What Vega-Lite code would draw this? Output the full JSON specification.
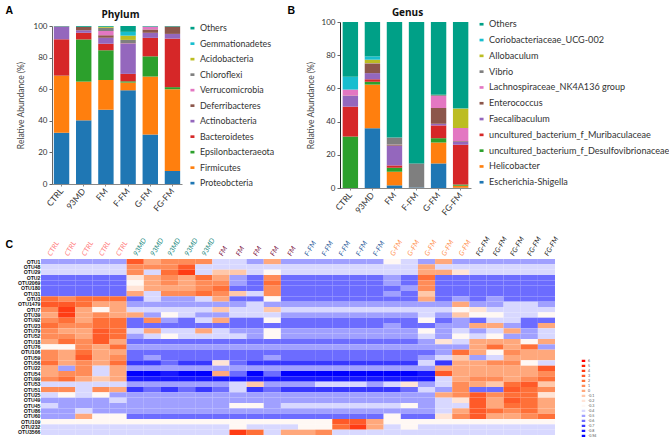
{"$schema":"https://vega.github.io/schema/vega-lite/v6.json","padding":{"left":5,"top":5,"right":0,"bottom":0},"background":"white","bounds":"flush","columns":2,"spacing":{"row":71,"column":158},"config":{"font":"Lato","view":{"stroke":null},"axis":{"labelFont":"Lato","titleFont":"Lato"},"legend":{"labelFont":"Lato"},"title":{"font":"Open Sans"}},
"datasets":{"phylum":[
{"g":"CTRL","t":"Proteobcteria","v":32.5,"r":1},{"g":"CTRL","t":"Firmicutes","v":36,"r":2},{"g":"CTRL","t":"Epsilonbacteraeota","v":0.1,"r":3},{"g":"CTRL","t":"Bacteroidetes","v":23,"r":4},{"g":"CTRL","t":"Actinobacteria","v":8,"r":5},{"g":"CTRL","t":"Deferribacteres","v":0.2,"r":6},{"g":"CTRL","t":"Others","v":0.2,"r":11},
{"g":"93MD","t":"Proteobcteria","v":40.3,"r":1},{"g":"93MD","t":"Firmicutes","v":24.5,"r":2},{"g":"93MD","t":"Epsilonbacteraeota","v":26.7,"r":3},{"g":"93MD","t":"Bacteroidetes","v":4.2,"r":4},{"g":"93MD","t":"Actinobacteria","v":1.6,"r":5},{"g":"93MD","t":"Deferribacteres","v":2.2,"r":6},{"g":"93MD","t":"Others","v":0.5,"r":11},
{"g":"FM","t":"Proteobcteria","v":47,"r":1},{"g":"FM","t":"Firmicutes","v":18.8,"r":2},{"g":"FM","t":"Epsilonbacteraeota","v":18.9,"r":3},{"g":"FM","t":"Bacteroidetes","v":4.1,"r":4},{"g":"FM","t":"Actinobacteria","v":3.8,"r":5},{"g":"FM","t":"Deferribacteres","v":1.6,"r":6},{"g":"FM","t":"Verrucomicrobia","v":2.6,"r":7},{"g":"FM","t":"Chloroflexi","v":2.1,"r":8},{"g":"FM","t":"Acidobacteria","v":0.6,"r":9},{"g":"FM","t":"Gemmationadetes","v":0.1,"r":10},{"g":"FM","t":"Others","v":0.4,"r":11},
{"g":"F-FM","t":"Proteobcteria","v":59.3,"r":1},{"g":"F-FM","t":"Firmicutes","v":4.9,"r":2},{"g":"F-FM","t":"Epsilonbacteraeota","v":0.8,"r":3},{"g":"F-FM","t":"Bacteroidetes","v":4.7,"r":4},{"g":"F-FM","t":"Actinobacteria","v":19.2,"r":5},{"g":"F-FM","t":"Deferribacteres","v":0.2,"r":6},{"g":"F-FM","t":"Verrucomicrobia","v":0.1,"r":7},{"g":"F-FM","t":"Chloroflexi","v":2,"r":8},{"g":"F-FM","t":"Acidobacteria","v":2.7,"r":9},{"g":"F-FM","t":"Gemmationadetes","v":2.4,"r":10},{"g":"F-FM","t":"Others","v":3.7,"r":11},
{"g":"G-FM","t":"Proteobcteria","v":31.3,"r":1},{"g":"G-FM","t":"Firmicutes","v":36.7,"r":2},{"g":"G-FM","t":"Epsilonbacteraeota","v":12.8,"r":3},{"g":"G-FM","t":"Bacteroidetes","v":11.7,"r":4},{"g":"G-FM","t":"Actinobacteria","v":3.2,"r":5},{"g":"G-FM","t":"Deferribacteres","v":2.1,"r":6},{"g":"G-FM","t":"Verrucomicrobia","v":1.7,"r":7},{"g":"G-FM","t":"Chloroflexi","v":0.2,"r":8},{"g":"G-FM","t":"Others","v":0.3,"r":11},
{"g":"FG-FM","t":"Proteobcteria","v":8.3,"r":1},{"g":"FG-FM","t":"Firmicutes","v":51.7,"r":2},{"g":"FG-FM","t":"Epsilonbacteraeota","v":1.3,"r":3},{"g":"FG-FM","t":"Bacteroidetes","v":30.7,"r":4},{"g":"FG-FM","t":"Actinobacteria","v":3,"r":5},{"g":"FG-FM","t":"Deferribacteres","v":4.7,"r":6},{"g":"FG-FM","t":"Others","v":0.3,"r":11}
],"genus":[
{"g":"CTRL","t":"uncultured_bacterium_f_Desulfovibrionaceae","v":31,"r":3},{"g":"CTRL","t":"uncultured_bacterium_f_Muribaculaceae","v":18,"r":4},{"g":"CTRL","t":"Faecalibaculum","v":6.5,"r":5},{"g":"CTRL","t":"Enterococcus","v":0.2,"r":6},{"g":"CTRL","t":"Lachnospiraceae_NK4A136 group","v":3.6,"r":7},{"g":"CTRL","t":"Coriobacteriaceae_UCG-002","v":7.7,"r":10},{"g":"CTRL","t":"Others","v":33,"r":11},
{"g":"93MD","t":"Escherichia-Shigella","v":36,"r":1},{"g":"93MD","t":"Helicobacter","v":26.3,"r":2},{"g":"93MD","t":"uncultured_bacterium_f_Desulfovibrionaceae","v":1.7,"r":3},{"g":"93MD","t":"uncultured_bacterium_f_Muribaculaceae","v":1.5,"r":4},{"g":"93MD","t":"Faecalibaculum","v":3.7,"r":5},{"g":"93MD","t":"Enterococcus","v":5.8,"r":6},{"g":"93MD","t":"Lachnospiraceae_NK4A136 group","v":0.1,"r":7},{"g":"93MD","t":"Vibrio","v":0.1,"r":8},{"g":"93MD","t":"Allobaculum","v":2.1,"r":9},{"g":"93MD","t":"Coriobacteriaceae_UCG-002","v":2,"r":10},{"g":"93MD","t":"Others","v":20.7,"r":11},
{"g":"FM","t":"Escherichia-Shigella","v":1.6,"r":1},{"g":"FM","t":"Helicobacter","v":8.2,"r":2},{"g":"FM","t":"uncultured_bacterium_f_Desulfovibrionaceae","v":2.4,"r":3},{"g":"FM","t":"uncultured_bacterium_f_Muribaculaceae","v":1.4,"r":4},{"g":"FM","t":"Faecalibaculum","v":11.9,"r":5},{"g":"FM","t":"Enterococcus","v":0.6,"r":6},{"g":"FM","t":"Lachnospiraceae_NK4A136 group","v":0.1,"r":7},{"g":"FM","t":"Vibrio","v":4.2,"r":8},{"g":"FM","t":"Others","v":69.6,"r":11},
{"g":"F-FM","t":"Escherichia-Shigella","v":0.3,"r":1},{"g":"F-FM","t":"Vibrio","v":14.5,"r":8},{"g":"F-FM","t":"Others","v":85.2,"r":11},
{"g":"G-FM","t":"Escherichia-Shigella","v":14.8,"r":1},{"g":"G-FM","t":"Helicobacter","v":12.6,"r":2},{"g":"G-FM","t":"uncultured_bacterium_f_Desulfovibrionaceae","v":2.6,"r":3},{"g":"G-FM","t":"uncultured_bacterium_f_Muribaculaceae","v":7.7,"r":4},{"g":"G-FM","t":"Faecalibaculum","v":1,"r":5},{"g":"G-FM","t":"Enterococcus","v":9.5,"r":6},{"g":"G-FM","t":"Lachnospiraceae_NK4A136 group","v":7.3,"r":7},{"g":"G-FM","t":"Vibrio","v":0.5,"r":8},{"g":"G-FM","t":"Allobaculum","v":0.1,"r":9},{"g":"G-FM","t":"Others","v":43.9,"r":11},
{"g":"FG-FM","t":"Escherichia-Shigella","v":0.2,"r":1},{"g":"FG-FM","t":"Helicobacter","v":1.2,"r":2},{"g":"FG-FM","t":"uncultured_bacterium_f_Desulfovibrionaceae","v":0.7,"r":3},{"g":"FG-FM","t":"uncultured_bacterium_f_Muribaculaceae","v":23.9,"r":4},{"g":"FG-FM","t":"Faecalibaculum","v":2,"r":5},{"g":"FG-FM","t":"Enterococcus","v":0.3,"r":6},{"g":"FG-FM","t":"Lachnospiraceae_NK4A136 group","v":7.9,"r":7},{"g":"FG-FM","t":"Allobaculum","v":11.7,"r":9},{"g":"FG-FM","t":"Coriobacteriaceae_UCG-002","v":0.1,"r":10},{"g":"FG-FM","t":"Others","v":52,"r":11}
],"heat":[
{"otu":"OTU1","s":"CTRL1","z":-0.5},{"otu":"OTU1","s":"CTRL2","z":-0.5},{"otu":"OTU1","s":"CTRL3","z":-0.5},{"otu":"OTU1","s":"CTRL4","z":-0.5},{"otu":"OTU1","s":"CTRL5","z":-0.5},{"otu":"OTU1","s":"93MD1","z":3},{"otu":"OTU1","s":"93MD2","z":0},{"otu":"OTU1","s":"93MD3","z":1},{"otu":"OTU1","s":"93MD4","z":1},{"otu":"OTU1","s":"93MD5","z":1},{"otu":"OTU1","s":"FM1","z":-0.4},{"otu":"OTU1","s":"FM2","z":-0.4},{"otu":"OTU1","s":"FM3","z":-0.5},{"otu":"OTU1","s":"FM4","z":0},{"otu":"OTU1","s":"FM5","z":-0.5},{"otu":"OTU1","s":"F-FM1","z":-0.5},{"otu":"OTU1","s":"F-FM2","z":-0.5},{"otu":"OTU1","s":"F-FM3","z":-0.5},{"otu":"OTU1","s":"F-FM4","z":-0.5},{"otu":"OTU1","s":"F-FM5","z":-0.5},{"otu":"OTU1","s":"G-FM1","z":-0.3},{"otu":"OTU1","s":"G-FM2","z":-0.4},{"otu":"OTU1","s":"G-FM3","z":-0.5},{"otu":"OTU1","s":"G-FM4","z":0},{"otu":"OTU1","s":"G-FM5","z":-0.5},{"otu":"OTU1","s":"FG-FM1","z":-0.5},{"otu":"OTU1","s":"FG-FM2","z":-0.5},{"otu":"OTU1","s":"FG-FM3","z":-0.5},{"otu":"OTU1","s":"FG-FM4","z":-0.5},{"otu":"OTU1","s":"FG-FM5","z":-0.5},
{"otu":"OTU48","s":"CTRL1","z":-0.4},{"otu":"OTU48","s":"CTRL2","z":-0.4},{"otu":"OTU48","s":"CTRL3","z":-0.4},{"otu":"OTU48","s":"CTRL4","z":-0.4},{"otu":"OTU48","s":"CTRL5","z":-0.4},{"otu":"OTU48","s":"93MD1","z":1},{"otu":"OTU48","s":"93MD2","z":1},{"otu":"OTU48","s":"93MD3","z":1},{"otu":"OTU48","s":"93MD4","z":3},{"otu":"OTU48","s":"93MD5","z":-0.4},{"otu":"OTU48","s":"FM1","z":-0.4},{"otu":"OTU48","s":"FM2","z":-0.4},{"otu":"OTU48","s":"FM3","z":-0.4},{"otu":"OTU48","s":"FM4","z":-0.4},{"otu":"OTU48","s":"FM5","z":-0.4},{"otu":"OTU48","s":"F-FM1","z":-0.4},{"otu":"OTU48","s":"F-FM2","z":-0.4},{"otu":"OTU48","s":"F-FM3","z":-0.4},{"otu":"OTU48","s":"F-FM4","z":-0.4},{"otu":"OTU48","s":"F-FM5","z":-0.4},{"otu":"OTU48","s":"G-FM1","z":-0.4},{"otu":"OTU48","s":"G-FM2","z":-0.4},{"otu":"OTU48","s":"G-FM3","z":0},{"otu":"OTU48","s":"G-FM4","z":-0.4},{"otu":"OTU48","s":"G-FM5","z":-0.4},{"otu":"OTU48","s":"FG-FM1","z":-0.4},{"otu":"OTU48","s":"FG-FM2","z":-0.4},{"otu":"OTU48","s":"FG-FM3","z":-0.4},{"otu":"OTU48","s":"FG-FM4","z":-0.4},{"otu":"OTU48","s":"FG-FM5","z":-0.4},
{"otu":"OTU29","s":"CTRL1","z":-0.4},{"otu":"OTU29","s":"CTRL2","z":-0.4},{"otu":"OTU29","s":"CTRL3","z":-0.4},{"otu":"OTU29","s":"CTRL4","z":-0.4},{"otu":"OTU29","s":"CTRL5","z":-0.4},{"otu":"OTU29","s":"93MD1","z":1},{"otu":"OTU29","s":"93MD2","z":-0.4},{"otu":"OTU29","s":"93MD3","z":2},{"otu":"OTU29","s":"93MD4","z":4},{"otu":"OTU29","s":"93MD5","z":-0.4},{"otu":"OTU29","s":"FM1","z":-0.1},{"otu":"OTU29","s":"FM2","z":-0.1},{"otu":"OTU29","s":"FM3","z":-0.4},{"otu":"OTU29","s":"FM4","z":-0.3},{"otu":"OTU29","s":"FM5","z":-0.4},{"otu":"OTU29","s":"F-FM1","z":-0.4},{"otu":"OTU29","s":"F-FM2","z":-0.4},{"otu":"OTU29","s":"F-FM3","z":-0.4},{"otu":"OTU29","s":"F-FM4","z":-0.4},{"otu":"OTU29","s":"F-FM5","z":-0.4},{"otu":"OTU29","s":"G-FM1","z":-0.4},{"otu":"OTU29","s":"G-FM2","z":-0.4},{"otu":"OTU29","s":"G-FM3","z":0},{"otu":"OTU29","s":"G-FM4","z":0},{"otu":"OTU29","s":"G-FM5","z":-0.2},{"otu":"OTU29","s":"FG-FM1","z":-0.4},{"otu":"OTU29","s":"FG-FM2","z":-0.4},{"otu":"OTU29","s":"FG-FM3","z":-0.4},{"otu":"OTU29","s":"FG-FM4","z":-0.4},{"otu":"OTU29","s":"FG-FM5","z":-0.4},
{"otu":"OTU2","s":"CTRL1","z":-0.6},{"otu":"OTU2","s":"CTRL2","z":-0.6},{"otu":"OTU2","s":"CTRL3","z":-0.6},{"otu":"OTU2","s":"CTRL4","z":-0.6},{"otu":"OTU2","s":"CTRL5","z":-0.6},{"otu":"OTU2","s":"93MD1","z":-0.2},{"otu":"OTU2","s":"93MD2","z":0},{"otu":"OTU2","s":"93MD3","z":1},{"otu":"OTU2","s":"93MD4","z":0},{"otu":"OTU2","s":"93MD5","z":2},{"otu":"OTU2","s":"FM1","z":0},{"otu":"OTU2","s":"FM2","z":-0.5},{"otu":"OTU2","s":"FM3","z":-0.6},{"otu":"OTU2","s":"FM4","z":1},{"otu":"OTU2","s":"FM5","z":-0.6},{"otu":"OTU2","s":"F-FM1","z":-0.6},{"otu":"OTU2","s":"F-FM2","z":-0.6},{"otu":"OTU2","s":"F-FM3","z":-0.6},{"otu":"OTU2","s":"F-FM4","z":-0.6},{"otu":"OTU2","s":"F-FM5","z":-0.6},{"otu":"OTU2","s":"G-FM1","z":-0.5},{"otu":"OTU2","s":"G-FM2","z":-0.6},{"otu":"OTU2","s":"G-FM3","z":2},{"otu":"OTU2","s":"G-FM4","z":-0.6},{"otu":"OTU2","s":"G-FM5","z":-0.6},{"otu":"OTU2","s":"FG-FM1","z":-0.6},{"otu":"OTU2","s":"FG-FM2","z":-0.6},{"otu":"OTU2","s":"FG-FM3","z":-0.6},{"otu":"OTU2","s":"FG-FM4","z":-0.6},{"otu":"OTU2","s":"FG-FM5","z":-0.6},
{"otu":"OTU2069","s":"CTRL1","z":-0.6},{"otu":"OTU2069","s":"CTRL2","z":-0.6},{"otu":"OTU2069","s":"CTRL3","z":-0.6},{"otu":"OTU2069","s":"CTRL4","z":-0.6},{"otu":"OTU2069","s":"CTRL5","z":-0.6},{"otu":"OTU2069","s":"93MD1","z":-0.3},{"otu":"OTU2069","s":"93MD2","z":0},{"otu":"OTU2069","s":"93MD3","z":1},{"otu":"OTU2069","s":"93MD4","z":0},{"otu":"OTU2069","s":"93MD5","z":1},{"otu":"OTU2069","s":"FM1","z":1},{"otu":"OTU2069","s":"FM2","z":-0.5},{"otu":"OTU2069","s":"FM3","z":-0.6},{"otu":"OTU2069","s":"FM4","z":2},{"otu":"OTU2069","s":"FM5","z":-0.6},{"otu":"OTU2069","s":"F-FM1","z":-0.6},{"otu":"OTU2069","s":"F-FM2","z":-0.6},{"otu":"OTU2069","s":"F-FM3","z":-0.6},{"otu":"OTU2069","s":"F-FM4","z":-0.6},{"otu":"OTU2069","s":"F-FM5","z":-0.6},{"otu":"OTU2069","s":"G-FM1","z":-0.5},{"otu":"OTU2069","s":"G-FM2","z":-0.6},{"otu":"OTU2069","s":"G-FM3","z":1},{"otu":"OTU2069","s":"G-FM4","z":-0.6},{"otu":"OTU2069","s":"G-FM5","z":-0.6},{"otu":"OTU2069","s":"FG-FM1","z":-0.6},{"otu":"OTU2069","s":"FG-FM2","z":-0.6},{"otu":"OTU2069","s":"FG-FM3","z":-0.6},{"otu":"OTU2069","s":"FG-FM4","z":-0.6},{"otu":"OTU2069","s":"FG-FM5","z":-0.6},
{"otu":"OTU180","s":"CTRL1","z":-0.6},{"otu":"OTU180","s":"CTRL2","z":-0.6},{"otu":"OTU180","s":"CTRL3","z":-0.6},{"otu":"OTU180","s":"CTRL4","z":-0.6},{"otu":"OTU180","s":"CTRL5","z":-0.6},{"otu":"OTU180","s":"93MD1","z":-0.2},{"otu":"OTU180","s":"93MD2","z":0},{"otu":"OTU180","s":"93MD3","z":0},{"otu":"OTU180","s":"93MD4","z":0},{"otu":"OTU180","s":"93MD5","z":1},{"otu":"OTU180","s":"FM1","z":2},{"otu":"OTU180","s":"FM2","z":-0.6},{"otu":"OTU180","s":"FM3","z":-0.6},{"otu":"OTU180","s":"FM4","z":1},{"otu":"OTU180","s":"FM5","z":-0.6},{"otu":"OTU180","s":"F-FM1","z":-0.6},{"otu":"OTU180","s":"F-FM2","z":-0.6},{"otu":"OTU180","s":"F-FM3","z":-0.6},{"otu":"OTU180","s":"F-FM4","z":-0.6},{"otu":"OTU180","s":"F-FM5","z":-0.6},{"otu":"OTU180","s":"G-FM1","z":-0.6},{"otu":"OTU180","s":"G-FM2","z":-0.5},{"otu":"OTU180","s":"G-FM3","z":1},{"otu":"OTU180","s":"G-FM4","z":-0.6},{"otu":"OTU180","s":"G-FM5","z":-0.6},{"otu":"OTU180","s":"FG-FM1","z":-0.6},{"otu":"OTU180","s":"FG-FM2","z":-0.6},{"otu":"OTU180","s":"FG-FM3","z":-0.6},{"otu":"OTU180","s":"FG-FM4","z":-0.6},{"otu":"OTU180","s":"FG-FM5","z":-0.6},
{"otu":"OTU31","s":"CTRL1","z":-0.6},{"otu":"OTU31","s":"CTRL2","z":-0.6},{"otu":"OTU31","s":"CTRL3","z":-0.6},{"otu":"OTU31","s":"CTRL4","z":-0.6},{"otu":"OTU31","s":"CTRL5","z":-0.6},{"otu":"OTU31","s":"93MD1","z":0},{"otu":"OTU31","s":"93MD2","z":-0.4},{"otu":"OTU31","s":"93MD3","z":1},{"otu":"OTU31","s":"93MD4","z":1},{"otu":"OTU31","s":"93MD5","z":2},{"otu":"OTU31","s":"FM1","z":1},{"otu":"OTU31","s":"FM2","z":-0.1},{"otu":"OTU31","s":"FM3","z":-0.4},{"otu":"OTU31","s":"FM4","z":1},{"otu":"OTU31","s":"FM5","z":-0.6},{"otu":"OTU31","s":"F-FM1","z":-0.6},{"otu":"OTU31","s":"F-FM2","z":-0.6},{"otu":"OTU31","s":"F-FM3","z":-0.6},{"otu":"OTU31","s":"F-FM4","z":-0.6},{"otu":"OTU31","s":"F-FM5","z":-0.6},{"otu":"OTU31","s":"G-FM1","z":-0.5},{"otu":"OTU31","s":"G-FM2","z":-0.6},{"otu":"OTU31","s":"G-FM3","z":-0.1},{"otu":"OTU31","s":"G-FM4","z":-0.6},{"otu":"OTU31","s":"G-FM5","z":-0.6},{"otu":"OTU31","s":"FG-FM1","z":-0.6},{"otu":"OTU31","s":"FG-FM2","z":-0.6},{"otu":"OTU31","s":"FG-FM3","z":-0.6},{"otu":"OTU31","s":"FG-FM4","z":-0.6},{"otu":"OTU31","s":"FG-FM5","z":-0.6},
{"otu":"OTU3","s":"CTRL1","z":2},{"otu":"OTU3","s":"CTRL2","z":1},{"otu":"OTU3","s":"CTRL3","z":2},{"otu":"OTU3","s":"CTRL4","z":2},{"otu":"OTU3","s":"CTRL5","z":2},{"otu":"OTU3","s":"93MD1","z":-0.6},{"otu":"OTU3","s":"93MD2","z":-0.4},{"otu":"OTU3","s":"93MD3","z":-0.5},{"otu":"OTU3","s":"93MD4","z":-0.5},{"otu":"OTU3","s":"93MD5","z":-0.4},{"otu":"OTU3","s":"FM1","z":0},{"otu":"OTU3","s":"FM2","z":-0.6},{"otu":"OTU3","s":"FM3","z":-0.6},{"otu":"OTU3","s":"FM4","z":-0.3},{"otu":"OTU3","s":"FM5","z":-0.6},{"otu":"OTU3","s":"F-FM1","z":-0.6},{"otu":"OTU3","s":"F-FM2","z":-0.6},{"otu":"OTU3","s":"F-FM3","z":-0.6},{"otu":"OTU3","s":"F-FM4","z":-0.6},{"otu":"OTU3","s":"F-FM5","z":-0.6},{"otu":"OTU3","s":"G-FM1","z":-0.6},{"otu":"OTU3","s":"G-FM2","z":-0.6},{"otu":"OTU3","s":"G-FM3","z":0},{"otu":"OTU3","s":"G-FM4","z":-0.6},{"otu":"OTU3","s":"G-FM5","z":-0.5},{"otu":"OTU3","s":"FG-FM1","z":-0.6},{"otu":"OTU3","s":"FG-FM2","z":-0.5},{"otu":"OTU3","s":"FG-FM3","z":-0.6},{"otu":"OTU3","s":"FG-FM4","z":-0.6},{"otu":"OTU3","s":"FG-FM5","z":-0.6},
{"otu":"OTU1479","s":"CTRL1","z":3},{"otu":"OTU1479","s":"CTRL2","z":3},{"otu":"OTU1479","s":"CTRL3","z":2},{"otu":"OTU1479","s":"CTRL4","z":0},{"otu":"OTU1479","s":"CTRL5","z":0},{"otu":"OTU1479","s":"93MD1","z":-0.5},{"otu":"OTU1479","s":"93MD2","z":-0.5},{"otu":"OTU1479","s":"93MD3","z":-0.5},{"otu":"OTU1479","s":"93MD4","z":-0.5},{"otu":"OTU1479","s":"93MD5","z":-0.5},{"otu":"OTU1479","s":"FM1","z":-0.5},{"otu":"OTU1479","s":"FM2","z":-0.5},{"otu":"OTU1479","s":"FM3","z":-0.4},{"otu":"OTU1479","s":"FM4","z":-0.5},{"otu":"OTU1479","s":"FM5","z":-0.5},{"otu":"OTU1479","s":"F-FM1","z":-0.5},{"otu":"OTU1479","s":"F-FM2","z":-0.5},{"otu":"OTU1479","s":"F-FM3","z":-0.5},{"otu":"OTU1479","s":"F-FM4","z":-0.5},{"otu":"OTU1479","s":"F-FM5","z":-0.5},{"otu":"OTU1479","s":"G-FM1","z":-0.5},{"otu":"OTU1479","s":"G-FM2","z":-0.5},{"otu":"OTU1479","s":"G-FM3","z":-0.5},{"otu":"OTU1479","s":"G-FM4","z":-0.5},{"otu":"OTU1479","s":"G-FM5","z":0},{"otu":"OTU1479","s":"FG-FM1","z":-0.5},{"otu":"OTU1479","s":"FG-FM2","z":-0.5},{"otu":"OTU1479","s":"FG-FM3","z":-0.4},{"otu":"OTU1479","s":"FG-FM4","z":-0.4},{"otu":"OTU1479","s":"FG-FM5","z":-0.5},
{"otu":"OTU7","s":"CTRL1","z":1},{"otu":"OTU7","s":"CTRL2","z":4},{"otu":"OTU7","s":"CTRL3","z":0},{"otu":"OTU7","s":"CTRL4","z":-0.3},{"otu":"OTU7","s":"CTRL5","z":0},{"otu":"OTU7","s":"93MD1","z":-0.4},{"otu":"OTU7","s":"93MD2","z":-0.4},{"otu":"OTU7","s":"93MD3","z":-0.4},{"otu":"OTU7","s":"93MD4","z":-0.4},{"otu":"OTU7","s":"93MD5","z":-0.4},{"otu":"OTU7","s":"FM1","z":-0.1},{"otu":"OTU7","s":"FM2","z":-0.4},{"otu":"OTU7","s":"FM3","z":-0.4},{"otu":"OTU7","s":"FM4","z":-0.1},{"otu":"OTU7","s":"FM5","z":-0.4},{"otu":"OTU7","s":"F-FM1","z":-0.4},{"otu":"OTU7","s":"F-FM2","z":-0.4},{"otu":"OTU7","s":"F-FM3","z":-0.4},{"otu":"OTU7","s":"F-FM4","z":-0.4},{"otu":"OTU7","s":"F-FM5","z":-0.4},{"otu":"OTU7","s":"G-FM1","z":-0.4},{"otu":"OTU7","s":"G-FM2","z":-0.4},{"otu":"OTU7","s":"G-FM3","z":-0.4},{"otu":"OTU7","s":"G-FM4","z":-0.4},{"otu":"OTU7","s":"G-FM5","z":-0.3},{"otu":"OTU7","s":"FG-FM1","z":-0.2},{"otu":"OTU7","s":"FG-FM2","z":-0.4},{"otu":"OTU7","s":"FG-FM3","z":-0.4},{"otu":"OTU7","s":"FG-FM4","z":-0.4},{"otu":"OTU7","s":"FG-FM5","z":-0.4},
{"otu":"OTU39","s":"CTRL1","z":0},{"otu":"OTU39","s":"CTRL2","z":4},{"otu":"OTU39","s":"CTRL3","z":0},{"otu":"OTU39","s":"CTRL4","z":1},{"otu":"OTU39","s":"CTRL5","z":0},{"otu":"OTU39","s":"93MD1","z":0},{"otu":"OTU39","s":"93MD2","z":-0.5},{"otu":"OTU39","s":"93MD3","z":-0.3},{"otu":"OTU39","s":"93MD4","z":-0.4},{"otu":"OTU39","s":"93MD5","z":-0.5},{"otu":"OTU39","s":"FM1","z":-0.5},{"otu":"OTU39","s":"FM2","z":-0.4},{"otu":"OTU39","s":"FM3","z":-0.4},{"otu":"OTU39","s":"FM4","z":-0.4},{"otu":"OTU39","s":"FM5","z":-0.5},{"otu":"OTU39","s":"F-FM1","z":-0.5},{"otu":"OTU39","s":"F-FM2","z":-0.5},{"otu":"OTU39","s":"F-FM3","z":-0.5},{"otu":"OTU39","s":"F-FM4","z":-0.5},{"otu":"OTU39","s":"F-FM5","z":-0.5},{"otu":"OTU39","s":"G-FM1","z":-0.5},{"otu":"OTU39","s":"G-FM2","z":-0.5},{"otu":"OTU39","s":"G-FM3","z":-0.4},{"otu":"OTU39","s":"G-FM4","z":-0.5},{"otu":"OTU39","s":"G-FM5","z":-0.1},{"otu":"OTU39","s":"FG-FM1","z":-0.3},{"otu":"OTU39","s":"FG-FM2","z":-0.3},{"otu":"OTU39","s":"FG-FM3","z":-0.4},{"otu":"OTU39","s":"FG-FM4","z":-0.4},{"otu":"OTU39","s":"FG-FM5","z":-0.3},
{"otu":"OTU92","s":"CTRL1","z":1},{"otu":"OTU92","s":"CTRL2","z":2},{"otu":"OTU92","s":"CTRL3","z":0},{"otu":"OTU92","s":"CTRL4","z":2},{"otu":"OTU92","s":"CTRL5","z":2},{"otu":"OTU92","s":"93MD1","z":-0.6},{"otu":"OTU92","s":"93MD2","z":1},{"otu":"OTU92","s":"93MD3","z":-0.5},{"otu":"OTU92","s":"93MD4","z":-0.6},{"otu":"OTU92","s":"93MD5","z":-0.4},{"otu":"OTU92","s":"FM1","z":0},{"otu":"OTU92","s":"FM2","z":-0.6},{"otu":"OTU92","s":"FM3","z":-0.6},{"otu":"OTU92","s":"FM4","z":-0.3},{"otu":"OTU92","s":"FM5","z":-0.6},{"otu":"OTU92","s":"F-FM1","z":-0.6},{"otu":"OTU92","s":"F-FM2","z":-0.6},{"otu":"OTU92","s":"F-FM3","z":-0.6},{"otu":"OTU92","s":"F-FM4","z":-0.6},{"otu":"OTU92","s":"F-FM5","z":-0.6},{"otu":"OTU92","s":"G-FM1","z":-0.6},{"otu":"OTU92","s":"G-FM2","z":-0.6},{"otu":"OTU92","s":"G-FM3","z":-0.3},{"otu":"OTU92","s":"G-FM4","z":-0.6},{"otu":"OTU92","s":"G-FM5","z":-0.5},{"otu":"OTU92","s":"FG-FM1","z":-0.6},{"otu":"OTU92","s":"FG-FM2","z":-0.4},{"otu":"OTU92","s":"FG-FM3","z":-0.4},{"otu":"OTU92","s":"FG-FM4","z":-0.6},{"otu":"OTU92","s":"FG-FM5","z":-0.6},
{"otu":"OTU23","s":"CTRL1","z":2},{"otu":"OTU23","s":"CTRL2","z":1},{"otu":"OTU23","s":"CTRL3","z":1},{"otu":"OTU23","s":"CTRL4","z":2},{"otu":"OTU23","s":"CTRL5","z":2},{"otu":"OTU23","s":"93MD1","z":-0.6},{"otu":"OTU23","s":"93MD2","z":-0.6},{"otu":"OTU23","s":"93MD3","z":-0.6},{"otu":"OTU23","s":"93MD4","z":-0.6},{"otu":"OTU23","s":"93MD5","z":-0.6},{"otu":"OTU23","s":"FM1","z":-0.6},{"otu":"OTU23","s":"FM2","z":-0.6},{"otu":"OTU23","s":"FM3","z":-0.6},{"otu":"OTU23","s":"FM4","z":-0.6},{"otu":"OTU23","s":"FM5","z":-0.6},{"otu":"OTU23","s":"F-FM1","z":-0.6},{"otu":"OTU23","s":"F-FM2","z":-0.6},{"otu":"OTU23","s":"F-FM3","z":-0.6},{"otu":"OTU23","s":"F-FM4","z":-0.6},{"otu":"OTU23","s":"F-FM5","z":-0.6},{"otu":"OTU23","s":"G-FM1","z":-0.5},{"otu":"OTU23","s":"G-FM2","z":-0.6},{"otu":"OTU23","s":"G-FM3","z":-0.6},{"otu":"OTU23","s":"G-FM4","z":-0.5},{"otu":"OTU23","s":"G-FM5","z":-0.5},{"otu":"OTU23","s":"FG-FM1","z":0},{"otu":"OTU23","s":"FG-FM2","z":0},{"otu":"OTU23","s":"FG-FM3","z":-0.5},{"otu":"OTU23","s":"FG-FM4","z":-0.6},{"otu":"OTU23","s":"FG-FM5","z":0},
{"otu":"OTU79","s":"CTRL1","z":1},{"otu":"OTU79","s":"CTRL2","z":0},{"otu":"OTU79","s":"CTRL3","z":0},{"otu":"OTU79","s":"CTRL4","z":3},{"otu":"OTU79","s":"CTRL5","z":2},{"otu":"OTU79","s":"93MD1","z":-0.4},{"otu":"OTU79","s":"93MD2","z":0},{"otu":"OTU79","s":"93MD3","z":-0.4},{"otu":"OTU79","s":"93MD4","z":-0.4},{"otu":"OTU79","s":"93MD5","z":0},{"otu":"OTU79","s":"FM1","z":-0.4},{"otu":"OTU79","s":"FM2","z":-0.5},{"otu":"OTU79","s":"FM3","z":-0.5},{"otu":"OTU79","s":"FM4","z":-0.3},{"otu":"OTU79","s":"FM5","z":-0.5},{"otu":"OTU79","s":"F-FM1","z":-0.5},{"otu":"OTU79","s":"F-FM2","z":-0.5},{"otu":"OTU79","s":"F-FM3","z":-0.5},{"otu":"OTU79","s":"F-FM4","z":-0.5},{"otu":"OTU79","s":"F-FM5","z":-0.5},{"otu":"OTU79","s":"G-FM1","z":-0.5},{"otu":"OTU79","s":"G-FM2","z":-0.5},{"otu":"OTU79","s":"G-FM3","z":-0.3},{"otu":"OTU79","s":"G-FM4","z":-0.5},{"otu":"OTU79","s":"G-FM5","z":-0.4},{"otu":"OTU79","s":"FG-FM1","z":-0.5},{"otu":"OTU79","s":"FG-FM2","z":-0.4},{"otu":"OTU79","s":"FG-FM3","z":0},{"otu":"OTU79","s":"FG-FM4","z":-0.5},{"otu":"OTU79","s":"FG-FM5","z":-0.4},
{"otu":"OTU52","s":"CTRL1","z":1},{"otu":"OTU52","s":"CTRL2","z":1},{"otu":"OTU52","s":"CTRL3","z":0},{"otu":"OTU52","s":"CTRL4","z":3},{"otu":"OTU52","s":"CTRL5","z":2},{"otu":"OTU52","s":"93MD1","z":-0.5},{"otu":"OTU52","s":"93MD2","z":-0.4},{"otu":"OTU52","s":"93MD3","z":-0.3},{"otu":"OTU52","s":"93MD4","z":-0.4},{"otu":"OTU52","s":"93MD5","z":-0.4},{"otu":"OTU52","s":"FM1","z":-0.4},{"otu":"OTU52","s":"FM2","z":-0.4},{"otu":"OTU52","s":"FM3","z":-0.5},{"otu":"OTU52","s":"FM4","z":-0.3},{"otu":"OTU52","s":"FM5","z":-0.5},{"otu":"OTU52","s":"F-FM1","z":-0.5},{"otu":"OTU52","s":"F-FM2","z":-0.5},{"otu":"OTU52","s":"F-FM3","z":-0.5},{"otu":"OTU52","s":"F-FM4","z":-0.5},{"otu":"OTU52","s":"F-FM5","z":-0.5},{"otu":"OTU52","s":"G-FM1","z":-0.5},{"otu":"OTU52","s":"G-FM2","z":-0.5},{"otu":"OTU52","s":"G-FM3","z":-0.4},{"otu":"OTU52","s":"G-FM4","z":-0.5},{"otu":"OTU52","s":"G-FM5","z":-0.3},{"otu":"OTU52","s":"FG-FM1","z":-0.4},{"otu":"OTU52","s":"FG-FM2","z":-0.3},{"otu":"OTU52","s":"FG-FM3","z":-0.5},{"otu":"OTU52","s":"FG-FM4","z":-0.5},{"otu":"OTU52","s":"FG-FM5","z":-0.4},
{"otu":"OTU18","s":"CTRL1","z":0},{"otu":"OTU18","s":"CTRL2","z":2},{"otu":"OTU18","s":"CTRL3","z":1},{"otu":"OTU18","s":"CTRL4","z":3},{"otu":"OTU18","s":"CTRL5","z":0},{"otu":"OTU18","s":"93MD1","z":-0.6},{"otu":"OTU18","s":"93MD2","z":-0.6},{"otu":"OTU18","s":"93MD3","z":-0.6},{"otu":"OTU18","s":"93MD4","z":-0.6},{"otu":"OTU18","s":"93MD5","z":-0.6},{"otu":"OTU18","s":"FM1","z":-0.6},{"otu":"OTU18","s":"FM2","z":-0.6},{"otu":"OTU18","s":"FM3","z":-0.6},{"otu":"OTU18","s":"FM4","z":-0.6},{"otu":"OTU18","s":"FM5","z":-0.6},{"otu":"OTU18","s":"F-FM1","z":-0.6},{"otu":"OTU18","s":"F-FM2","z":-0.6},{"otu":"OTU18","s":"F-FM3","z":-0.6},{"otu":"OTU18","s":"F-FM4","z":-0.6},{"otu":"OTU18","s":"F-FM5","z":-0.6},{"otu":"OTU18","s":"G-FM1","z":-0.6},{"otu":"OTU18","s":"G-FM2","z":-0.6},{"otu":"OTU18","s":"G-FM3","z":-0.5},{"otu":"OTU18","s":"G-FM4","z":-0.2},{"otu":"OTU18","s":"G-FM5","z":-0.4},{"otu":"OTU18","s":"FG-FM1","z":0},{"otu":"OTU18","s":"FG-FM2","z":0},{"otu":"OTU18","s":"FG-FM3","z":0},{"otu":"OTU18","s":"FG-FM4","z":-0.3},{"otu":"OTU18","s":"FG-FM5","z":0},
{"otu":"OTU76","s":"CTRL1","z":-0.3},{"otu":"OTU76","s":"CTRL2","z":-0.3},{"otu":"OTU76","s":"CTRL3","z":1},{"otu":"OTU76","s":"CTRL4","z":0},{"otu":"OTU76","s":"CTRL5","z":2},{"otu":"OTU76","s":"93MD1","z":-0.5},{"otu":"OTU76","s":"93MD2","z":-0.5},{"otu":"OTU76","s":"93MD3","z":-0.5},{"otu":"OTU76","s":"93MD4","z":-0.5},{"otu":"OTU76","s":"93MD5","z":-0.5},{"otu":"OTU76","s":"FM1","z":-0.5},{"otu":"OTU76","s":"FM2","z":-0.5},{"otu":"OTU76","s":"FM3","z":-0.5},{"otu":"OTU76","s":"FM4","z":-0.5},{"otu":"OTU76","s":"FM5","z":-0.5},{"otu":"OTU76","s":"F-FM1","z":-0.5},{"otu":"OTU76","s":"F-FM2","z":-0.5},{"otu":"OTU76","s":"F-FM3","z":-0.5},{"otu":"OTU76","s":"F-FM4","z":-0.5},{"otu":"OTU76","s":"F-FM5","z":-0.5},{"otu":"OTU76","s":"G-FM1","z":-0.5},{"otu":"OTU76","s":"G-FM2","z":-0.5},{"otu":"OTU76","s":"G-FM3","z":-0.5},{"otu":"OTU76","s":"G-FM4","z":-0.5},{"otu":"OTU76","s":"G-FM5","z":-0.5},{"otu":"OTU76","s":"FG-FM1","z":0},{"otu":"OTU76","s":"FG-FM2","z":2},{"otu":"OTU76","s":"FG-FM3","z":0},{"otu":"OTU76","s":"FG-FM4","z":2},{"otu":"OTU76","s":"FG-FM5","z":-0.5},
{"otu":"OTU106","s":"CTRL1","z":1},{"otu":"OTU106","s":"CTRL2","z":0},{"otu":"OTU106","s":"CTRL3","z":2},{"otu":"OTU106","s":"CTRL4","z":0},{"otu":"OTU106","s":"CTRL5","z":0},{"otu":"OTU106","s":"93MD1","z":-0.6},{"otu":"OTU106","s":"93MD2","z":-0.6},{"otu":"OTU106","s":"93MD3","z":-0.6},{"otu":"OTU106","s":"93MD4","z":-0.6},{"otu":"OTU106","s":"93MD5","z":-0.6},{"otu":"OTU106","s":"FM1","z":-0.6},{"otu":"OTU106","s":"FM2","z":-0.6},{"otu":"OTU106","s":"FM3","z":-0.6},{"otu":"OTU106","s":"FM4","z":-0.6},{"otu":"OTU106","s":"FM5","z":-0.6},{"otu":"OTU106","s":"F-FM1","z":-0.6},{"otu":"OTU106","s":"F-FM2","z":-0.6},{"otu":"OTU106","s":"F-FM3","z":-0.6},{"otu":"OTU106","s":"F-FM4","z":-0.6},{"otu":"OTU106","s":"F-FM5","z":-0.6},{"otu":"OTU106","s":"G-FM1","z":-0.6},{"otu":"OTU106","s":"G-FM2","z":-0.6},{"otu":"OTU106","s":"G-FM3","z":-0.6},{"otu":"OTU106","s":"G-FM4","z":-0.5},{"otu":"OTU106","s":"G-FM5","z":2},{"otu":"OTU106","s":"FG-FM1","z":0},{"otu":"OTU106","s":"FG-FM2","z":-0.3},{"otu":"OTU106","s":"FG-FM3","z":1},{"otu":"OTU106","s":"FG-FM4","z":0},{"otu":"OTU106","s":"FG-FM5","z":0},
{"otu":"OTU59","s":"CTRL1","z":1},{"otu":"OTU59","s":"CTRL2","z":0},{"otu":"OTU59","s":"CTRL3","z":3},{"otu":"OTU59","s":"CTRL4","z":0},{"otu":"OTU59","s":"CTRL5","z":1},{"otu":"OTU59","s":"93MD1","z":-0.6},{"otu":"OTU59","s":"93MD2","z":-0.5},{"otu":"OTU59","s":"93MD3","z":-0.6},{"otu":"OTU59","s":"93MD4","z":-0.6},{"otu":"OTU59","s":"93MD5","z":-0.6},{"otu":"OTU59","s":"FM1","z":-0.6},{"otu":"OTU59","s":"FM2","z":-0.6},{"otu":"OTU59","s":"FM3","z":-0.6},{"otu":"OTU59","s":"FM4","z":-0.5},{"otu":"OTU59","s":"FM5","z":-0.6},{"otu":"OTU59","s":"F-FM1","z":-0.6},{"otu":"OTU59","s":"F-FM2","z":-0.6},{"otu":"OTU59","s":"F-FM3","z":-0.6},{"otu":"OTU59","s":"F-FM4","z":-0.6},{"otu":"OTU59","s":"F-FM5","z":-0.6},{"otu":"OTU59","s":"G-FM1","z":-0.6},{"otu":"OTU59","s":"G-FM2","z":-0.6},{"otu":"OTU59","s":"G-FM3","z":-0.5},{"otu":"OTU59","s":"G-FM4","z":-0.4},{"otu":"OTU59","s":"G-FM5","z":-0.1},{"otu":"OTU59","s":"FG-FM1","z":-0.5},{"otu":"OTU59","s":"FG-FM2","z":-0.4},{"otu":"OTU59","s":"FG-FM3","z":0},{"otu":"OTU59","s":"FG-FM4","z":0},{"otu":"OTU59","s":"FG-FM5","z":0},
{"otu":"OTU56","s":"CTRL1","z":2},{"otu":"OTU56","s":"CTRL2","z":0},{"otu":"OTU56","s":"CTRL3","z":1},{"otu":"OTU56","s":"CTRL4","z":0},{"otu":"OTU56","s":"CTRL5","z":2},{"otu":"OTU56","s":"93MD1","z":-0.7},{"otu":"OTU56","s":"93MD2","z":-0.7},{"otu":"OTU56","s":"93MD3","z":-0.6},{"otu":"OTU56","s":"93MD4","z":-0.7},{"otu":"OTU56","s":"93MD5","z":-0.7},{"otu":"OTU56","s":"FM1","z":-0.2},{"otu":"OTU56","s":"FM2","z":-0.6},{"otu":"OTU56","s":"FM3","z":-0.7},{"otu":"OTU56","s":"FM4","z":-0.7},{"otu":"OTU56","s":"FM5","z":-0.7},{"otu":"OTU56","s":"F-FM1","z":-0.7},{"otu":"OTU56","s":"F-FM2","z":-0.7},{"otu":"OTU56","s":"F-FM3","z":-0.7},{"otu":"OTU56","s":"F-FM4","z":-0.7},{"otu":"OTU56","s":"F-FM5","z":-0.7},{"otu":"OTU56","s":"G-FM1","z":-0.7},{"otu":"OTU56","s":"G-FM2","z":-0.7},{"otu":"OTU56","s":"G-FM3","z":-0.4},{"otu":"OTU56","s":"G-FM4","z":-0.7},{"otu":"OTU56","s":"G-FM5","z":0},{"otu":"OTU56","s":"FG-FM1","z":0},{"otu":"OTU56","s":"FG-FM2","z":1},{"otu":"OTU56","s":"FG-FM3","z":1},{"otu":"OTU56","s":"FG-FM4","z":-0.3},{"otu":"OTU56","s":"FG-FM5","z":-0.4},
{"otu":"OTU22","s":"CTRL1","z":0},{"otu":"OTU22","s":"CTRL2","z":-0.5},{"otu":"OTU22","s":"CTRL3","z":1},{"otu":"OTU22","s":"CTRL4","z":-0.4},{"otu":"OTU22","s":"CTRL5","z":0},{"otu":"OTU22","s":"93MD1","z":-0.5},{"otu":"OTU22","s":"93MD2","z":-0.5},{"otu":"OTU22","s":"93MD3","z":-0.5},{"otu":"OTU22","s":"93MD4","z":-0.5},{"otu":"OTU22","s":"93MD5","z":-0.5},{"otu":"OTU22","s":"FM1","z":-0.5},{"otu":"OTU22","s":"FM2","z":-0.5},{"otu":"OTU22","s":"FM3","z":-0.5},{"otu":"OTU22","s":"FM4","z":-0.5},{"otu":"OTU22","s":"FM5","z":-0.5},{"otu":"OTU22","s":"F-FM1","z":-0.5},{"otu":"OTU22","s":"F-FM2","z":-0.5},{"otu":"OTU22","s":"F-FM3","z":-0.5},{"otu":"OTU22","s":"F-FM4","z":-0.5},{"otu":"OTU22","s":"F-FM5","z":-0.5},{"otu":"OTU22","s":"G-FM1","z":-0.5},{"otu":"OTU22","s":"G-FM2","z":-0.5},{"otu":"OTU22","s":"G-FM3","z":-0.5},{"otu":"OTU22","s":"G-FM4","z":0},{"otu":"OTU22","s":"G-FM5","z":0},{"otu":"OTU22","s":"FG-FM1","z":0},{"otu":"OTU22","s":"FG-FM2","z":0},{"otu":"OTU22","s":"FG-FM3","z":0},{"otu":"OTU22","s":"FG-FM4","z":0},{"otu":"OTU22","s":"FG-FM5","z":3},
{"otu":"OTU54","s":"CTRL1","z":0},{"otu":"OTU54","s":"CTRL2","z":1},{"otu":"OTU54","s":"CTRL3","z":1},{"otu":"OTU54","s":"CTRL4","z":-0.4},{"otu":"OTU54","s":"CTRL5","z":0},{"otu":"OTU54","s":"93MD1","z":-0.94},{"otu":"OTU54","s":"93MD2","z":-0.94},{"otu":"OTU54","s":"93MD3","z":-0.8},{"otu":"OTU54","s":"93MD4","z":-0.94},{"otu":"OTU54","s":"93MD5","z":-0.94},{"otu":"OTU54","s":"FM1","z":0},{"otu":"OTU54","s":"FM2","z":-0.6},{"otu":"OTU54","s":"FM3","z":-0.94},{"otu":"OTU54","s":"FM4","z":-0.6},{"otu":"OTU54","s":"FM5","z":-0.94},{"otu":"OTU54","s":"F-FM1","z":-0.94},{"otu":"OTU54","s":"F-FM2","z":-0.94},{"otu":"OTU54","s":"F-FM3","z":-0.94},{"otu":"OTU54","s":"F-FM4","z":-0.94},{"otu":"OTU54","s":"F-FM5","z":-0.94},{"otu":"OTU54","s":"G-FM1","z":-0.94},{"otu":"OTU54","s":"G-FM2","z":-0.94},{"otu":"OTU54","s":"G-FM3","z":-0.8},{"otu":"OTU54","s":"G-FM4","z":3},{"otu":"OTU54","s":"G-FM5","z":0},{"otu":"OTU54","s":"FG-FM1","z":0},{"otu":"OTU54","s":"FG-FM2","z":0},{"otu":"OTU54","s":"FG-FM3","z":0},{"otu":"OTU54","s":"FG-FM4","z":0},{"otu":"OTU54","s":"FG-FM5","z":1},
{"otu":"OTU99","s":"CTRL1","z":1},{"otu":"OTU99","s":"CTRL2","z":2},{"otu":"OTU99","s":"CTRL3","z":0},{"otu":"OTU99","s":"CTRL4","z":-0.1},{"otu":"OTU99","s":"CTRL5","z":0},{"otu":"OTU99","s":"93MD1","z":-0.8},{"otu":"OTU99","s":"93MD2","z":-0.8},{"otu":"OTU99","s":"93MD3","z":-0.8},{"otu":"OTU99","s":"93MD4","z":-0.8},{"otu":"OTU99","s":"93MD5","z":-0.8},{"otu":"OTU99","s":"FM1","z":-0.8},{"otu":"OTU99","s":"FM2","z":-0.8},{"otu":"OTU99","s":"FM3","z":-0.8},{"otu":"OTU99","s":"FM4","z":-0.8},{"otu":"OTU99","s":"FM5","z":-0.8},{"otu":"OTU99","s":"F-FM1","z":-0.8},{"otu":"OTU99","s":"F-FM2","z":-0.8},{"otu":"OTU99","s":"F-FM3","z":-0.8},{"otu":"OTU99","s":"F-FM4","z":-0.8},{"otu":"OTU99","s":"F-FM5","z":-0.8},{"otu":"OTU99","s":"G-FM1","z":-0.8},{"otu":"OTU99","s":"G-FM2","z":-0.8},{"otu":"OTU99","s":"G-FM3","z":-0.8},{"otu":"OTU99","s":"G-FM4","z":-0.4},{"otu":"OTU99","s":"G-FM5","z":0},{"otu":"OTU99","s":"FG-FM1","z":1},{"otu":"OTU99","s":"FG-FM2","z":1},{"otu":"OTU99","s":"FG-FM3","z":0},{"otu":"OTU99","s":"FG-FM4","z":1},{"otu":"OTU99","s":"FG-FM5","z":2},
{"otu":"OTU53","s":"CTRL1","z":-0.4},{"otu":"OTU53","s":"CTRL2","z":-0.4},{"otu":"OTU53","s":"CTRL3","z":-0.4},{"otu":"OTU53","s":"CTRL4","z":-0.4},{"otu":"OTU53","s":"CTRL5","z":-0.4},{"otu":"OTU53","s":"93MD1","z":-0.5},{"otu":"OTU53","s":"93MD2","z":-0.5},{"otu":"OTU53","s":"93MD3","z":-0.5},{"otu":"OTU53","s":"93MD4","z":-0.5},{"otu":"OTU53","s":"93MD5","z":-0.5},{"otu":"OTU53","s":"FM1","z":-0.5},{"otu":"OTU53","s":"FM2","z":-0.4},{"otu":"OTU53","s":"FM3","z":-0.1},{"otu":"OTU53","s":"FM4","z":-0.5},{"otu":"OTU53","s":"FM5","z":-0.5},{"otu":"OTU53","s":"F-FM1","z":-0.5},{"otu":"OTU53","s":"F-FM2","z":-0.4},{"otu":"OTU53","s":"F-FM3","z":-0.4},{"otu":"OTU53","s":"F-FM4","z":-0.4},{"otu":"OTU53","s":"F-FM5","z":-0.5},{"otu":"OTU53","s":"G-FM1","z":-0.4},{"otu":"OTU53","s":"G-FM2","z":-0.2},{"otu":"OTU53","s":"G-FM3","z":-0.5},{"otu":"OTU53","s":"G-FM4","z":-0.4},{"otu":"OTU53","s":"G-FM5","z":1},{"otu":"OTU53","s":"FG-FM1","z":0},{"otu":"OTU53","s":"FG-FM2","z":-0.1},{"otu":"OTU53","s":"FG-FM3","z":2},{"otu":"OTU53","s":"FG-FM4","z":3},{"otu":"OTU53","s":"FG-FM5","z":-0.1},
{"otu":"OTU51","s":"CTRL1","z":1},{"otu":"OTU51","s":"CTRL2","z":1},{"otu":"OTU51","s":"CTRL3","z":-0.4},{"otu":"OTU51","s":"CTRL4","z":1},{"otu":"OTU51","s":"CTRL5","z":0},{"otu":"OTU51","s":"93MD1","z":-0.7},{"otu":"OTU51","s":"93MD2","z":-0.6},{"otu":"OTU51","s":"93MD3","z":-0.7},{"otu":"OTU51","s":"93MD4","z":-0.6},{"otu":"OTU51","s":"93MD5","z":-0.7},{"otu":"OTU51","s":"FM1","z":-0.6},{"otu":"OTU51","s":"FM2","z":-0.4},{"otu":"OTU51","s":"FM3","z":-0.7},{"otu":"OTU51","s":"FM4","z":-0.6},{"otu":"OTU51","s":"FM5","z":-0.7},{"otu":"OTU51","s":"F-FM1","z":-0.7},{"otu":"OTU51","s":"F-FM2","z":-0.7},{"otu":"OTU51","s":"F-FM3","z":-0.7},{"otu":"OTU51","s":"F-FM4","z":-0.7},{"otu":"OTU51","s":"F-FM5","z":-0.7},{"otu":"OTU51","s":"G-FM1","z":-0.7},{"otu":"OTU51","s":"G-FM2","z":-0.6},{"otu":"OTU51","s":"G-FM3","z":-0.4},{"otu":"OTU51","s":"G-FM4","z":-0.5},{"otu":"OTU51","s":"G-FM5","z":1},{"otu":"OTU51","s":"FG-FM1","z":-0.6},{"otu":"OTU51","s":"FG-FM2","z":-0.6},{"otu":"OTU51","s":"FG-FM3","z":3},{"otu":"OTU51","s":"FG-FM4","z":2},{"otu":"OTU51","s":"FG-FM5","z":1},
{"otu":"OTU25","s":"CTRL1","z":-0.4},{"otu":"OTU25","s":"CTRL2","z":-0.3},{"otu":"OTU25","s":"CTRL3","z":-0.4},{"otu":"OTU25","s":"CTRL4","z":-0.3},{"otu":"OTU25","s":"CTRL5","z":-0.5},{"otu":"OTU25","s":"93MD1","z":-0.5},{"otu":"OTU25","s":"93MD2","z":-0.5},{"otu":"OTU25","s":"93MD3","z":-0.5},{"otu":"OTU25","s":"93MD4","z":-0.5},{"otu":"OTU25","s":"93MD5","z":-0.5},{"otu":"OTU25","s":"FM1","z":-0.5},{"otu":"OTU25","s":"FM2","z":-0.5},{"otu":"OTU25","s":"FM3","z":-0.5},{"otu":"OTU25","s":"FM4","z":-0.5},{"otu":"OTU25","s":"FM5","z":-0.5},{"otu":"OTU25","s":"F-FM1","z":-0.5},{"otu":"OTU25","s":"F-FM2","z":-0.5},{"otu":"OTU25","s":"F-FM3","z":-0.5},{"otu":"OTU25","s":"F-FM4","z":-0.5},{"otu":"OTU25","s":"F-FM5","z":-0.5},{"otu":"OTU25","s":"G-FM1","z":-0.5},{"otu":"OTU25","s":"G-FM2","z":-0.5},{"otu":"OTU25","s":"G-FM3","z":-0.5},{"otu":"OTU25","s":"G-FM4","z":0},{"otu":"OTU25","s":"G-FM5","z":1},{"otu":"OTU25","s":"FG-FM1","z":3},{"otu":"OTU25","s":"FG-FM2","z":1},{"otu":"OTU25","s":"FG-FM3","z":2},{"otu":"OTU25","s":"FG-FM4","z":2},{"otu":"OTU25","s":"FG-FM5","z":-0.2},
{"otu":"OTU49","s":"CTRL1","z":-0.5},{"otu":"OTU49","s":"CTRL2","z":-0.5},{"otu":"OTU49","s":"CTRL3","z":-0.5},{"otu":"OTU49","s":"CTRL4","z":-0.5},{"otu":"OTU49","s":"CTRL5","z":-0.4},{"otu":"OTU49","s":"93MD1","z":-0.5},{"otu":"OTU49","s":"93MD2","z":-0.5},{"otu":"OTU49","s":"93MD3","z":-0.5},{"otu":"OTU49","s":"93MD4","z":-0.5},{"otu":"OTU49","s":"93MD5","z":-0.5},{"otu":"OTU49","s":"FM1","z":-0.5},{"otu":"OTU49","s":"FM2","z":-0.5},{"otu":"OTU49","s":"FM3","z":-0.5},{"otu":"OTU49","s":"FM4","z":-0.5},{"otu":"OTU49","s":"FM5","z":-0.5},{"otu":"OTU49","s":"F-FM1","z":-0.5},{"otu":"OTU49","s":"F-FM2","z":-0.5},{"otu":"OTU49","s":"F-FM3","z":-0.5},{"otu":"OTU49","s":"F-FM4","z":-0.5},{"otu":"OTU49","s":"F-FM5","z":-0.5},{"otu":"OTU49","s":"G-FM1","z":-0.5},{"otu":"OTU49","s":"G-FM2","z":-0.5},{"otu":"OTU49","s":"G-FM3","z":-0.5},{"otu":"OTU49","s":"G-FM4","z":-0.4},{"otu":"OTU49","s":"G-FM5","z":-0.2},{"otu":"OTU49","s":"FG-FM1","z":3},{"otu":"OTU49","s":"FG-FM2","z":0},{"otu":"OTU49","s":"FG-FM3","z":3},{"otu":"OTU49","s":"FG-FM4","z":2},{"otu":"OTU49","s":"FG-FM5","z":0},
{"otu":"OTU45","s":"CTRL1","z":-0.4},{"otu":"OTU45","s":"CTRL2","z":-0.5},{"otu":"OTU45","s":"CTRL3","z":-0.5},{"otu":"OTU45","s":"CTRL4","z":-0.5},{"otu":"OTU45","s":"CTRL5","z":-0.5},{"otu":"OTU45","s":"93MD1","z":-0.5},{"otu":"OTU45","s":"93MD2","z":-0.5},{"otu":"OTU45","s":"93MD3","z":-0.5},{"otu":"OTU45","s":"93MD4","z":-0.5},{"otu":"OTU45","s":"93MD5","z":-0.5},{"otu":"OTU45","s":"FM1","z":-0.5},{"otu":"OTU45","s":"FM2","z":-0.3},{"otu":"OTU45","s":"FM3","z":-0.3},{"otu":"OTU45","s":"FM4","z":-0.5},{"otu":"OTU45","s":"FM5","z":-0.4},{"otu":"OTU45","s":"F-FM1","z":-0.4},{"otu":"OTU45","s":"F-FM2","z":-0.4},{"otu":"OTU45","s":"F-FM3","z":-0.4},{"otu":"OTU45","s":"F-FM4","z":-0.4},{"otu":"OTU45","s":"F-FM5","z":-0.4},{"otu":"OTU45","s":"G-FM1","z":-0.4},{"otu":"OTU45","s":"G-FM2","z":-0.3},{"otu":"OTU45","s":"G-FM3","z":-0.5},{"otu":"OTU45","s":"G-FM4","z":-0.4},{"otu":"OTU45","s":"G-FM5","z":-0.4},{"otu":"OTU45","s":"FG-FM1","z":3},{"otu":"OTU45","s":"FG-FM2","z":0},{"otu":"OTU45","s":"FG-FM3","z":2},{"otu":"OTU45","s":"FG-FM4","z":2},{"otu":"OTU45","s":"FG-FM5","z":0},
{"otu":"OTU86","s":"CTRL1","z":-0.5},{"otu":"OTU86","s":"CTRL2","z":-0.5},{"otu":"OTU86","s":"CTRL3","z":-0.4},{"otu":"OTU86","s":"CTRL4","z":-0.5},{"otu":"OTU86","s":"CTRL5","z":-0.5},{"otu":"OTU86","s":"93MD1","z":-0.5},{"otu":"OTU86","s":"93MD2","z":-0.5},{"otu":"OTU86","s":"93MD3","z":-0.5},{"otu":"OTU86","s":"93MD4","z":-0.5},{"otu":"OTU86","s":"93MD5","z":-0.5},{"otu":"OTU86","s":"FM1","z":-0.5},{"otu":"OTU86","s":"FM2","z":-0.5},{"otu":"OTU86","s":"FM3","z":-0.5},{"otu":"OTU86","s":"FM4","z":-0.5},{"otu":"OTU86","s":"FM5","z":-0.5},{"otu":"OTU86","s":"F-FM1","z":-0.5},{"otu":"OTU86","s":"F-FM2","z":-0.5},{"otu":"OTU86","s":"F-FM3","z":-0.5},{"otu":"OTU86","s":"F-FM4","z":-0.5},{"otu":"OTU86","s":"F-FM5","z":-0.5},{"otu":"OTU86","s":"G-FM1","z":-0.5},{"otu":"OTU86","s":"G-FM2","z":-0.5},{"otu":"OTU86","s":"G-FM3","z":-0.5},{"otu":"OTU86","s":"G-FM4","z":-0.4},{"otu":"OTU86","s":"G-FM5","z":0},{"otu":"OTU86","s":"FG-FM1","z":3},{"otu":"OTU86","s":"FG-FM2","z":2},{"otu":"OTU86","s":"FG-FM3","z":1},{"otu":"OTU86","s":"FG-FM4","z":2},{"otu":"OTU86","s":"FG-FM5","z":0},
{"otu":"OTU60","s":"CTRL1","z":-0.5},{"otu":"OTU60","s":"CTRL2","z":-0.5},{"otu":"OTU60","s":"CTRL3","z":0},{"otu":"OTU60","s":"CTRL4","z":-0.3},{"otu":"OTU60","s":"CTRL5","z":-0.3},{"otu":"OTU60","s":"93MD1","z":-0.6},{"otu":"OTU60","s":"93MD2","z":-0.6},{"otu":"OTU60","s":"93MD3","z":-0.6},{"otu":"OTU60","s":"93MD4","z":-0.6},{"otu":"OTU60","s":"93MD5","z":-0.6},{"otu":"OTU60","s":"FM1","z":-0.6},{"otu":"OTU60","s":"FM2","z":-0.6},{"otu":"OTU60","s":"FM3","z":-0.6},{"otu":"OTU60","s":"FM4","z":-0.6},{"otu":"OTU60","s":"FM5","z":-0.6},{"otu":"OTU60","s":"F-FM1","z":-0.6},{"otu":"OTU60","s":"F-FM2","z":-0.6},{"otu":"OTU60","s":"F-FM3","z":-0.6},{"otu":"OTU60","s":"F-FM4","z":-0.6},{"otu":"OTU60","s":"F-FM5","z":-0.6},{"otu":"OTU60","s":"G-FM1","z":-0.3},{"otu":"OTU60","s":"G-FM2","z":-0.6},{"otu":"OTU60","s":"G-FM3","z":-0.6},{"otu":"OTU60","s":"G-FM4","z":-0.2},{"otu":"OTU60","s":"G-FM5","z":1},{"otu":"OTU60","s":"FG-FM1","z":3},{"otu":"OTU60","s":"FG-FM2","z":0},{"otu":"OTU60","s":"FG-FM3","z":0},{"otu":"OTU60","s":"FG-FM4","z":1},{"otu":"OTU60","s":"FG-FM5","z":2},
{"otu":"OTU109","s":"CTRL1","z":-0.3},{"otu":"OTU109","s":"CTRL2","z":-0.3},{"otu":"OTU109","s":"CTRL3","z":-0.3},{"otu":"OTU109","s":"CTRL4","z":-0.3},{"otu":"OTU109","s":"CTRL5","z":-0.3},{"otu":"OTU109","s":"93MD1","z":-0.3},{"otu":"OTU109","s":"93MD2","z":-0.3},{"otu":"OTU109","s":"93MD3","z":-0.3},{"otu":"OTU109","s":"93MD4","z":-0.3},{"otu":"OTU109","s":"93MD5","z":-0.3},{"otu":"OTU109","s":"FM1","z":-0.3},{"otu":"OTU109","s":"FM2","z":-0.3},{"otu":"OTU109","s":"FM3","z":-0.3},{"otu":"OTU109","s":"FM4","z":-0.3},{"otu":"OTU109","s":"FM5","z":-0.3},{"otu":"OTU109","s":"F-FM1","z":-0.3},{"otu":"OTU109","s":"F-FM2","z":-0.3},{"otu":"OTU109","s":"F-FM3","z":3},{"otu":"OTU109","s":"F-FM4","z":3},{"otu":"OTU109","s":"F-FM5","z":0},{"otu":"OTU109","s":"G-FM1","z":-0.3},{"otu":"OTU109","s":"G-FM2","z":-0.3},{"otu":"OTU109","s":"G-FM3","z":-0.3},{"otu":"OTU109","s":"G-FM4","z":-0.3},{"otu":"OTU109","s":"G-FM5","z":-0.3},{"otu":"OTU109","s":"FG-FM1","z":-0.3},{"otu":"OTU109","s":"FG-FM2","z":-0.3},{"otu":"OTU109","s":"FG-FM3","z":-0.3},{"otu":"OTU109","s":"FG-FM4","z":-0.3},{"otu":"OTU109","s":"FG-FM5","z":-0.3},
{"otu":"OTU232","s":"CTRL1","z":-0.4},{"otu":"OTU232","s":"CTRL2","z":-0.4},{"otu":"OTU232","s":"CTRL3","z":-0.4},{"otu":"OTU232","s":"CTRL4","z":-0.4},{"otu":"OTU232","s":"CTRL5","z":-0.4},{"otu":"OTU232","s":"93MD1","z":-0.4},{"otu":"OTU232","s":"93MD2","z":-0.4},{"otu":"OTU232","s":"93MD3","z":-0.4},{"otu":"OTU232","s":"93MD4","z":-0.4},{"otu":"OTU232","s":"93MD5","z":-0.4},{"otu":"OTU232","s":"FM1","z":-0.4},{"otu":"OTU232","s":"FM2","z":-0.3},{"otu":"OTU232","s":"FM3","z":-0.4},{"otu":"OTU232","s":"FM4","z":-0.4},{"otu":"OTU232","s":"FM5","z":-0.4},{"otu":"OTU232","s":"F-FM1","z":-0.3},{"otu":"OTU232","s":"F-FM2","z":-0.3},{"otu":"OTU232","s":"F-FM3","z":2},{"otu":"OTU232","s":"F-FM4","z":4},{"otu":"OTU232","s":"F-FM5","z":0},{"otu":"OTU232","s":"G-FM1","z":-0.4},{"otu":"OTU232","s":"G-FM2","z":-0.3},{"otu":"OTU232","s":"G-FM3","z":-0.4},{"otu":"OTU232","s":"G-FM4","z":-0.4},{"otu":"OTU232","s":"G-FM5","z":-0.4},{"otu":"OTU232","s":"FG-FM1","z":-0.4},{"otu":"OTU232","s":"FG-FM2","z":-0.4},{"otu":"OTU232","s":"FG-FM3","z":-0.4},{"otu":"OTU232","s":"FG-FM4","z":-0.4},{"otu":"OTU232","s":"FG-FM5","z":-0.4},
{"otu":"OTU3566","s":"CTRL1","z":-0.4},{"otu":"OTU3566","s":"CTRL2","z":-0.4},{"otu":"OTU3566","s":"CTRL3","z":-0.4},{"otu":"OTU3566","s":"CTRL4","z":-0.4},{"otu":"OTU3566","s":"CTRL5","z":-0.4},{"otu":"OTU3566","s":"93MD1","z":-0.4},{"otu":"OTU3566","s":"93MD2","z":-0.4},{"otu":"OTU3566","s":"93MD3","z":-0.4},{"otu":"OTU3566","s":"93MD4","z":-0.4},{"otu":"OTU3566","s":"93MD5","z":-0.4},{"otu":"OTU3566","s":"FM1","z":-0.4},{"otu":"OTU3566","s":"FM2","z":4},{"otu":"OTU3566","s":"FM3","z":2},{"otu":"OTU3566","s":"FM4","z":-0.4},{"otu":"OTU3566","s":"FM5","z":0},{"otu":"OTU3566","s":"F-FM1","z":0},{"otu":"OTU3566","s":"F-FM2","z":1},{"otu":"OTU3566","s":"F-FM3","z":-0.4},{"otu":"OTU3566","s":"F-FM4","z":-0.4},{"otu":"OTU3566","s":"F-FM5","z":-0.4},{"otu":"OTU3566","s":"G-FM1","z":-0.4},{"otu":"OTU3566","s":"G-FM2","z":-0.4},{"otu":"OTU3566","s":"G-FM3","z":-0.4},{"otu":"OTU3566","s":"G-FM4","z":-0.4},{"otu":"OTU3566","s":"G-FM5","z":-0.4},{"otu":"OTU3566","s":"FG-FM1","z":-0.4},{"otu":"OTU3566","s":"FG-FM2","z":-0.4},{"otu":"OTU3566","s":"FG-FM3","z":-0.4},{"otu":"OTU3566","s":"FG-FM4","z":-0.4},{"otu":"OTU3566","s":"FG-FM5","z":-0.4}
]},
"concat":[
{"data":{"name":"phylum"},"width":141,"height":166,
"title":{"text":"Phylum","font":"Open Sans","fontWeight":"bold","fontSize":10,"color":"#111","offset":-15,"dx":9},
"mark":{"type":"bar","width":15.4},
"encoding":{
"x":{"field":"g","type":"nominal","sort":["CTRL","93MD","FM","F-FM","G-FM","FG-FM"],"scale":{"range":[11,141],"paddingInner":0.3,"paddingOuter":0.08},"axis":{"title":"A","titleFont":"Liberation Sans","titleFontSize":10.5,"titleFontWeight":"bold","titleColor":"#000","titleAlign":"left","titleBaseline":"alphabetic","titleX":-36,"titleY":-171,"labelAngle":-50,"labelAlign":"right","labelBaseline":"middle","labelFontSize":8.5,"labelColor":"#333","tickColor":"#888","domainColor":"#888","tickSize":2,"labelPadding":3,"offset":-4}},
"y":{"field":"v","type":"quantitative","stack":"zero","scale":{"domain":[0,100],"range":[162,4],"nice":false},"axis":{"title":"Relative Abundance (%)","titleFontSize":8.5,"titleFontWeight":"normal","titleColor":"#444","titlePadding":8,"labelFontSize":8,"labelColor":"#333","values":[0,20,40,60,80,100],"grid":false,"tickColor":"#666","domainColor":"#666","tickSize":3,"offset":-11}},
"color":{"field":"t","type":"nominal","scale":{"domain":["Others","Gemmationadetes","Acidobacteria","Chloroflexi","Verrucomicrobia","Deferribacteres","Actinobacteria","Bacteroidetes","Epsilonbacteraeota","Firmicutes","Proteobcteria"],"range":["#00a087","#17becf","#bcbd22","#7f7f7f","#e377c2","#8c564b","#9467bd","#d62728","#2ca02c","#ff7f0e","#1f77b4"]},
"legend":{"title":null,"orient":"none","legendX":147,"legendY":1.7,"symbolType":"M-0.5,-0.33H0.5V0.33H-0.5Z","symbolSize":64,"symbolStrokeWidth":0,"labelFontSize":8.9,"labelColor":"#333","labelOffset":3,"rowPadding":5.5,"labelLimit":200,"padding":0}},
"order":{"field":"r","type":"quantitative"}}},
{"data":{"name":"genus"},"width":131,"height":166,
"title":{"text":"Genus","font":"Open Sans","fontWeight":"bold","fontSize":10,"color":"#111","offset":-13,"dx":2},
"mark":{"type":"bar","width":15.4},
"encoding":{
"x":{"field":"g","type":"nominal","sort":["CTRL","93MD","FM","F-FM","G-FM","FG-FM"],"scale":{"paddingInner":0.3,"paddingOuter":0.12},"axis":{"title":"B","titleFont":"Liberation Sans","titleFontSize":10.5,"titleFontWeight":"bold","titleColor":"#000","titleAlign":"left","titleBaseline":"alphabetic","titleX":-53,"titleY":-175,"labelAngle":-50,"labelAlign":"right","labelBaseline":"middle","labelFontSize":8.5,"labelColor":"#333","tickColor":"#888","domainColor":"#888","tickSize":2,"labelPadding":3}},
"y":{"field":"v","type":"quantitative","stack":"zero","scale":{"domain":[0,100],"nice":false},"axis":{"title":"Relative Abundance (%)","titleFontSize":8.5,"titleFontWeight":"normal","titleColor":"#444","titlePadding":6,"labelFontSize":8,"labelColor":"#333","values":[0,20,40,60,80,100],"grid":false,"tickColor":"#666","domainColor":"#222","tickSize":3}},
"color":{"field":"t","type":"nominal","scale":{"domain":["Others","Coriobacteriaceae_UCG-002","Allobaculum","Vibrio","Lachnospiraceae_NK4A136 group","Enterococcus","Faecalibaculum","uncultured_bacterium_f_Muribaculaceae","uncultured_bacterium_f_Desulfovibrionaceae","Helicobacter","Escherichia-Shigella"],"range":["#00a087","#17becf","#bcbd22","#7f7f7f","#e377c2","#8c564b","#9467bd","#d62728","#2ca02c","#ff7f0e","#1f77b4"]},
"legend":{"title":null,"orient":"none","legendX":137,"legendY":-2.3,"symbolType":"M-0.5,-0.33H0.5V0.33H-0.5Z","symbolSize":64,"symbolStrokeWidth":0,"labelFontSize":9.1,"labelColor":"#333","labelOffset":3,"rowPadding":5.8,"labelLimit":300,"padding":0}},
"order":{"field":"r","type":"quantitative"}}},
{"data":{"name":"heat"},"width":141,"height":176,
"mark":{"type":"rect","stroke":null},
"encoding":{
"x":{"field":"s","type":"ordinal","sort":null,"scale":{"range":[0,514],"padding":0},"axis":{"orient":"top","title":"C","titleFont":"Liberation Sans","titleFontSize":10.5,"titleFontWeight":"bold","titleColor":"#000","titleAlign":"left","titleBaseline":"alphabetic","titleX":-36,"titleY":-12,"labelExpr":"slice(datum.label,0,-1)","labelAngle":-60,"labelAlign":"left","labelBaseline":"middle","labelFontSize":7,"labelFontStyle":"italic","labelOverlap":false,"labelBound":false,"ticks":false,"domain":false,"labelPadding":4,"labelColor":{"condition":[{"test":"indexof(datum.value,'FG-FM')==0","value":"#222222"},{"test":"indexof(datum.value,'F-FM')==0","value":"#2a5a9a"},{"test":"indexof(datum.value,'G-FM')==0","value":"#ff9050"},{"test":"indexof(datum.value,'FM')==0","value":"#7a1040"},{"test":"indexof(datum.value,'93MD')==0","value":"#1a8a80"}],"value":"#ff8080"}}},
"y":{"field":"otu","type":"ordinal","sort":null,"scale":{"padding":0},"axis":{"title":null,"ticks":false,"domain":false,"labelFontSize":5.2,"labelFontWeight":"bold","labelColor":"#111","labelPadding":1,"labelOverlap":false,"labelFont":"Liberation Sans"}},
"color":{"field":"z","type":"ordinal","scale":{"domain":[6,5,4,3,2,1,0,-0.1,-0.2,-0.3,-0.4,-0.5,-0.6,-0.7,-0.8,-0.94],"range":["#ff0000","#ff2000","#ff3c14","#ff5a28","#ff7038","#ff8c58","#ffa87c","#ffc8aa","#ffe4d6","#fff8f4","#d8d8ff","#a0a0ff","#6c6cff","#3838ff","#1818ff","#0000ff"]},
"legend":{"title":null,"orient":"none","legendX":539,"legendY":100,"symbolType":"M-0.5,-0.33H0.5V0.33H-0.5Z","symbolSize":49,"symbolStrokeWidth":0,"labelFontSize":3.6,"labelColor":"#555","labelOffset":1,"rowPadding":0,"clipHeight":3.6,"padding":0}}}}
],"resolve":{"scale":{"color":"independent","x":"independent","y":"independent"}}}
